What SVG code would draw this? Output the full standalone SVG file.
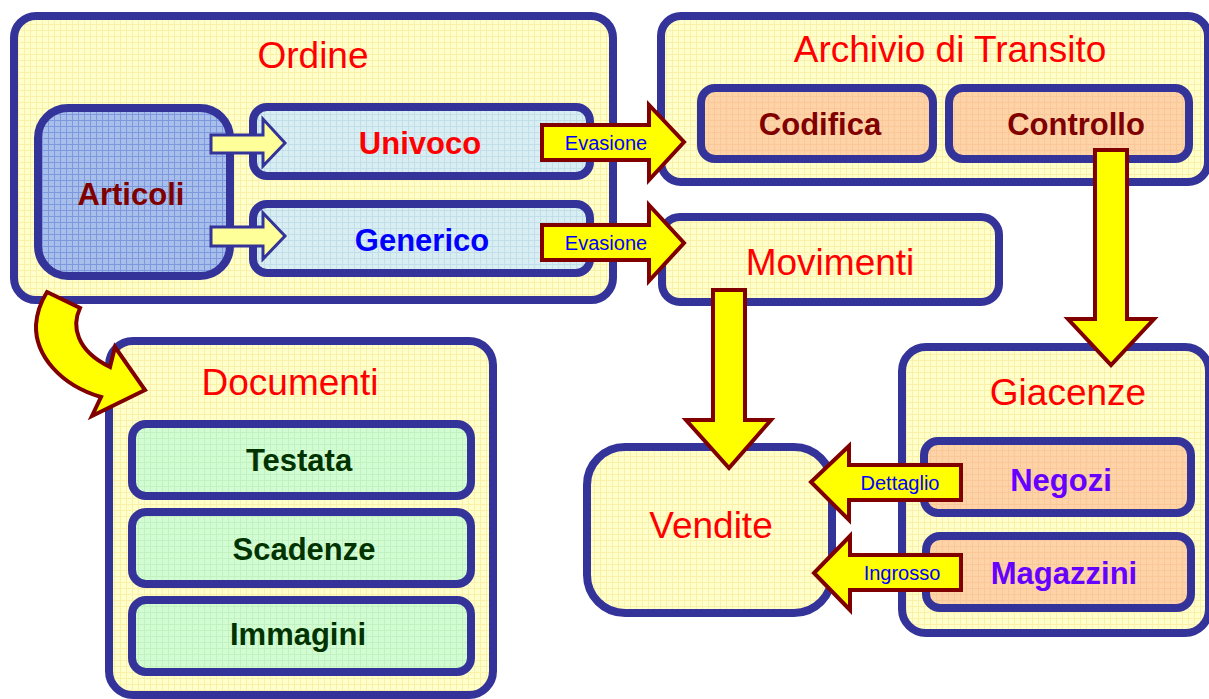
<svg xmlns="http://www.w3.org/2000/svg" width="1209" height="699" viewBox="0 0 1209 699">
<defs>
<pattern id="pY" width="6" height="6" patternUnits="userSpaceOnUse"><rect width="6" height="6" fill="#ffffcc"/><path d="M0 0.5H6M0.5 0V6" stroke="#fbf0a8" stroke-width="1"/></pattern>
<pattern id="pB" width="6" height="6" patternUnits="userSpaceOnUse"><rect width="6" height="6" fill="#a9bfeb"/><path d="M0 0.5H6M0.5 0V6" stroke="#7d98dc" stroke-width="1"/></pattern>
<pattern id="pL" width="6" height="6" patternUnits="userSpaceOnUse"><rect width="6" height="6" fill="#d9eef2"/><path d="M0 0.5H6M0.5 0V6" stroke="#c2dfe9" stroke-width="1"/></pattern>
<pattern id="pP" width="6" height="6" patternUnits="userSpaceOnUse"><rect width="6" height="6" fill="#ffd3a8"/><path d="M0 0.5H6M0.5 0V6" stroke="#f9c798" stroke-width="1"/></pattern>
<pattern id="pG" width="6" height="6" patternUnits="userSpaceOnUse"><rect width="6" height="6" fill="#d2fdd2"/><path d="M0 0.5H6M0.5 0V6" stroke="#c2f2c2" stroke-width="1"/></pattern>
</defs>
<style>
.box{stroke:#333399;stroke-width:8}
.outer{fill:url(#pY)}
.t{font-family:"Liberation Sans",Arial,sans-serif;font-size:37px;fill:#ff0000;text-anchor:middle}
.b{font-family:"Liberation Sans",Arial,sans-serif;font-size:31px;font-weight:bold;text-anchor:middle}
.s{font-family:"Liberation Sans",Arial,sans-serif;font-size:20px;fill:#0000ff;text-anchor:middle}
.arr{fill:#ffff00;stroke:#800000;stroke-width:4;stroke-linejoin:miter}
.sarr{fill:#ffff99;stroke:#333399;stroke-width:3}
</style>

<g id="ordine">
<rect class="box outer" x="14" y="16" width="599" height="284" rx="22"/>
<text class="t" x="313" y="68">Ordine</text>
</g>
<g id="articoli">
<rect class="box" fill="url(#pB)" x="38" y="108" width="192" height="168" rx="30"/>
<text class="b" x="131" y="205" fill="#800000">Articoli</text>
</g>
<g id="univoco">
<rect class="box" fill="url(#pL)" x="253" y="107" width="337" height="69" rx="14"/>
<text class="b" x="420" y="154" fill="#ff0000">Univoco</text>
</g>
<g id="generico">
<rect class="box" fill="url(#pL)" x="253" y="204" width="337" height="69" rx="14"/>
<text class="b" x="422" y="251" fill="#0000ff">Generico</text>
</g>

<g id="archivio">
<rect class="box outer" x="661" y="16" width="547" height="166" rx="20"/>
<text class="t" x="950" y="62">Archivio di Transito</text>
</g>
<g id="codifica">
<rect class="box" fill="url(#pP)" x="701" y="88" width="232" height="71" rx="14"/>
<text class="b" x="820" y="135" fill="#800000">Codifica</text>
</g>
<g id="controllo">
<rect class="box" fill="url(#pP)" x="949" y="88" width="240" height="71" rx="14"/>
<text class="b" x="1076" y="135" fill="#800000">Controllo</text>
</g>

<g id="movimenti">
<rect class="box outer" x="662" y="217" width="337" height="85" rx="18"/>
<text class="t" x="830" y="275">Movimenti</text>
</g>

<g id="giacenze">
<rect class="box outer" x="902" y="347" width="307" height="286" rx="24"/>
<text class="t" x="1068" y="405">Giacenze</text>
</g>
<g id="negozi">
<rect class="box" fill="url(#pP)" x="924" y="441" width="267" height="72" rx="14"/>
<text class="b" x="1061" y="491" fill="#6600ff">Negozi</text>
</g>
<g id="magazzini">
<rect class="box" fill="url(#pP)" x="926" y="536" width="265" height="72" rx="14"/>
<text class="b" x="1064" y="584" fill="#6600ff">Magazzini</text>
</g>

<g id="vendite">
<rect class="box outer" x="587" y="447" width="245" height="166" rx="38"/>
<text class="t" x="711" y="538">Vendite</text>
</g>

<g id="documenti">
<rect class="box outer" x="109" y="341" width="384" height="354" rx="24"/>
<text class="t" x="290" y="395">Documenti</text>
</g>
<g id="testata">
<rect class="box" fill="url(#pG)" x="132" y="424" width="339" height="72" rx="14"/>
<text class="b" x="299" y="471" fill="#003300">Testata</text>
</g>
<g id="scadenze">
<rect class="box" fill="url(#pG)" x="132" y="512" width="339" height="72" rx="14"/>
<text class="b" x="304" y="560" fill="#003300">Scadenze</text>
</g>
<g id="immagini">
<rect class="box" fill="url(#pG)" x="132" y="600" width="339" height="72" rx="14"/>
<text class="b" x="298" y="645" fill="#003300">Immagini</text>
</g>

<g id="connectors">
<path class="sarr" d="M211 135H263V119L285 143L263 166V153H211Z"/>
<path class="sarr" d="M211 227H263V213L285 236L263 259V246H211Z"/>

<path class="arr" d="M542 125H649V105L684 142L649 180V160H542Z"/>
<text class="s" x="606" y="150">Evasione</text>
<path class="arr" d="M542 225H649V205L684 243L649 281V260H542Z"/>
<text class="s" x="606" y="250">Evasione</text>

<path class="arr" d="M713 290H745V420H771L729 468L686 420H713Z"/>
<path class="arr" d="M1095 150H1127V319H1154L1111 365L1068 319H1095Z"/>

<path class="arr" d="M961 465V500H849V520L811 482L849 446V465Z"/>
<text class="s" x="900" y="490">Dettaglio</text>
<path class="arr" d="M961 555V590H850V610L814 573L850 536V555Z"/>
<text class="s" x="902" y="580">Ingrosso</text>

<path class="arr" d="M47 292L80 308C72 325 75 350 110 367L115 347L145 390L92 416L101 397C60 385 35 355 36 325C37 310 42 300 47 292Z"/>
</g>
</svg>
